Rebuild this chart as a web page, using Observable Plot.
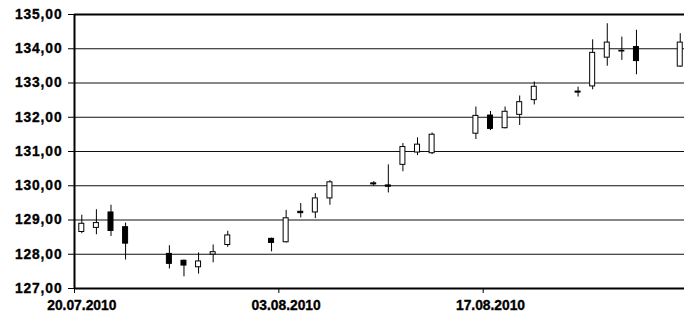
<!DOCTYPE html>
<html>
<head>
<meta charset="utf-8">
<script src="https://cdn.jsdelivr.net/npm/d3@7"></script>
<script src="https://cdn.jsdelivr.net/npm/@observablehq/plot@0.6"></script>
<style>
  html, body { margin: 0; padding: 0; background: #fff; }
  svg text { font-family: "Liberation Sans", Arial, sans-serif !important; font-weight: 700 !important; font-size: 13.8px !important; stroke: #000; stroke-width: 0.35px; }
  g[aria-label="y-axis tick label"] text { letter-spacing: 0.9px; }
</style>
</head>
<body>
<div id="chart"></div>
<script>
const dates = ["2010-07-20","2010-07-21","2010-07-22","2010-07-23",
  "2010-07-26","2010-07-27","2010-07-28","2010-07-29","2010-07-30",
  "2010-08-02","2010-08-03","2010-08-04","2010-08-05","2010-08-06",
  "2010-08-09","2010-08-10","2010-08-11","2010-08-12","2010-08-13",
  "2010-08-16","2010-08-17","2010-08-18","2010-08-19","2010-08-20",
  "2010-08-23","2010-08-24","2010-08-25","2010-08-26","2010-08-27",
  "2010-08-30"];
const open  = [128.65,128.77,129.22,128.79, 128.01,127.81,127.62,127.99,128.27,
  128.45,128.35,129.24,129.22,129.63, 130.07,130.01,130.61,130.97,130.95,
  131.52,132.05,131.68,132.07,132.50, 132.75,132.90,133.74,133.94,134.05, 133.48];
const high  = [129.14,129.30,129.43,128.91, 128.25,127.83,128.04,128.27,128.67,
  128.47,129.28,129.48,129.77,130.15, 130.12,130.61,131.23,131.40,131.54,
  132.30,132.17,132.30,132.62,133.03, 132.88,134.26,134.73,134.34,134.54, 134.44];
const low   = [128.60,128.57,128.52,127.83, 127.57,127.34,127.42,127.75,128.20,
  128.07,128.33,129.06,129.04,129.43, 129.99,129.79,130.41,130.88,130.91,
  131.35,131.61,131.66,131.76,132.36, 132.59,132.80,133.49,133.66,133.24, 133.46];
const close = [128.89,128.91,128.68,128.31, 127.72,127.67,127.79,128.06,128.55,
  128.33,129.05,129.20,129.63,130.10, 130.04,129.97,131.13,131.20,131.49,
  132.04,131.66,132.16,132.44,132.89, 132.72,133.88,134.18,133.92,133.64, 134.18];
const xTickLabels = ["2010-07-20","2010-08-03","2010-08-17"];
const yTicks = [127,128,129,130,131,132,133,134,135];
const xDomain = ["2010-07-20T00:00Z","2010-08-30T19:00Z"];

const data = dates.map((d, i) => ({
  date: new Date(d + "T00:00Z"), open: open[i], high: high[i], low: low[i], close: close[i]
}));
const xTicks = xTickLabels.map(d => new Date(d + "T00:00Z"));
const fmtDate = d3.utcFormat("%d.%m.%Y");
const noon = d => d3.utcHour.offset(d, 12);

const chart = Plot.plot({
  width: 684,
  height: 318,
  marginLeft: 74,
  marginRight: 0,
  marginTop: 14,
  marginBottom: 30,
  style: {fontFamily: "'Liberation Sans', Arial, sans-serif", fontSize: "13.8px", fontWeight: "bold", background: "#fff", color: "#000"},
  x: {type: "utc", domain: xDomain.map(d => new Date(d))},
  y: {domain: [127, 135]},
  marks: [
    Plot.ruleY(yTicks.slice(1, -1), {stroke: "#111", strokeWidth: 1}),
    Plot.ruleY([135], {stroke: "#000", strokeWidth: 2}),
    Plot.ruleY([127], {stroke: "#000", strokeWidth: 2}),
    Plot.ruleX([new Date(xDomain[0])], {stroke: "#000", strokeWidth: 2}),
    Plot.axisY({ticks: yTicks, tickSize: 6, tickPadding: 6, label: null,
      tickFormat: d => d.toFixed(2).replace(".", ",")}),
    Plot.axisX({ticks: xTicks, tickSize: 5, label: null, tickFormat: () => ""}),
    Plot.text(xTicks, {x: noon, frameAnchor: "bottom", dy: 21, text: fmtDate, fill: "#000"}),
    Plot.ruleX(data, {x: d => noon(d.date), y1: "low", y2: "high", stroke: "#000", strokeWidth: 1}),
    Plot.rect(data, {
      x1: "date", x2: d => d3.utcDay.offset(d.date, 1),
      y1: "open", y2: "close",
      insetLeft: 4.8, insetRight: 4.8,
      fill: d => d.close >= d.open ? "#fff" : "#000",
      stroke: "#000", strokeWidth: 1
    })
  ]
});
document.getElementById("chart").appendChild(chart);
</script>
</body>
</html>
